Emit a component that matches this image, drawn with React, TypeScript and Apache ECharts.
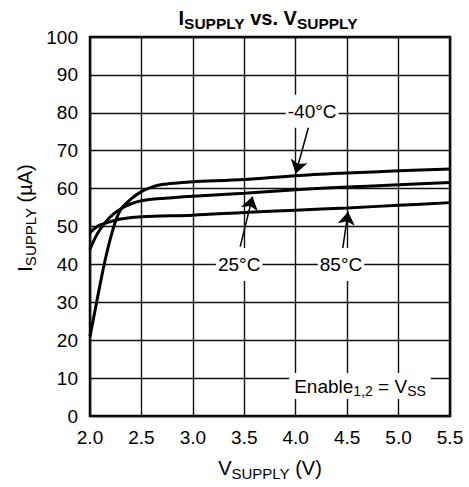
import React, { useEffect, useRef } from "react";
import * as echarts from "echarts";

const xMin = 2.0;
const xMax = 5.5;
const xStep = 0.5;
const yMin = 0;
const yMax = 100;
const yStep = 10;

// -40°C curve
const vM40 = [2.0, 2.05, 2.1, 2.15, 2.2, 2.25, 2.3, 2.4, 2.5, 2.6, 2.7, 2.85, 3.0, 3.5, 4.0, 4.5, 5.0, 5.5];
const iM40 = [21, 28, 35, 41.5, 47, 51.5, 54.5, 57.3, 59.2, 60.4, 61.1, 61.5, 61.8, 62.4, 63.4, 64.1, 64.7, 65.2];
// 25°C curve
const v25 = [2.0, 2.05, 2.1, 2.2, 2.3, 2.4, 2.5, 2.7, 3.0, 3.5, 4.0, 4.5, 5.0, 5.5];
const i25 = [44, 47, 49.3, 52.6, 54.7, 56.0, 56.8, 57.4, 58, 58.8, 59.7, 60.4, 61.0, 61.6];
// 85°C curve
const v85 = [2.0, 2.05, 2.1, 2.2, 2.3, 2.5, 3.0, 3.5, 4.0, 4.5, 5.0, 5.5];
const i85 = [48.4, 49.6, 50.4, 51.3, 52.0, 52.6, 53.0, 53.7, 54.3, 54.9, 55.6, 56.3];

const labelText = ["-40°C", "25°C", "85°C"];
const labelPos = [
  [4.16, 80.4],
  [3.45, 40],
  [4.44, 40],
];
const arrowFrom = [
  [4.13, 76.8],
  [3.46, 44.7],
  [4.45, 43.0],
];
const arrowTo = [
  [4.0, 64.0],
  [3.58, 57.9],
  [4.51, 53.9],
];
const enablePos = [4.625, 7.9];

const FONT = "'Liberation Sans', Arial, Helvetica, sans-serif";

export default function App() {
  const ref = useRef<HTMLDivElement>(null);
  useEffect(() => {
    const chart = echarts.init(ref.current!, null, { renderer: "svg" });
    const lineSeries = (name: string, xs: number[], ys: number[], extra: any = {}) => ({
      type: "line",
      name,
      data: xs.map((x, i) => [x, ys[i]]),
      showSymbol: false,
      symbol: "none",
      smooth: 0.3,
      lineStyle: { color: "#000", width: 3 },
      z: 3,
      ...extra,
    });
    const subRich = (main: number, sub: number, pad: number, bold = false) => ({
      n: {
        fontSize: main,
        fontFamily: FONT,
        fill: "#000",
        color: "#000",
        fontWeight: bold ? "bold" : "normal",
      },
      s: {
        fontSize: sub,
        fontFamily: FONT,
        fill: "#000",
        color: "#000",
        fontWeight: bold ? "bold" : "normal",
        padding: [pad, 0, 0, 0],
      },
    });
    const baseGraphic: any[] = [
      {
        type: "text",
        x: 268,
        y: 18,
        style: {
          text: "{n|I}{s|SUPPLY}{n| vs. V}{s|SUPPLY}",
          align: "center",
          verticalAlign: "middle",
          rich: subRich(20, 15.5, 10, true),
        },
      },
      {
        type: "text",
        x: 270,
        y: 468,
        style: {
          text: "{n|V}{s|SUPPLY}{n| (V)}",
          align: "center",
          verticalAlign: "middle",
          rich: subRich(20, 15, 11),
        },
      },
      {
        type: "text",
        x: 25,
        y: 218,
        rotation: Math.PI / 2,
        style: {
          text: "{n|I}{s|SUPPLY}{n| (µA)}",
          align: "center",
          verticalAlign: "middle",
          rich: subRich(20, 15, 11),
        },
      },
    ];
    chart.setOption({
      animation: false,
      grid: {
        left: 90,
        right: 19,
        top: 37,
        bottom: 71,
        show: true,
        borderColor: "#000",
        borderWidth: 2.5,
        backgroundColor: "transparent",
      },
      xAxis: {
        type: "value",
        min: xMin,
        max: xMax,
        interval: xStep,
        axisLine: { show: false },
        axisTick: { show: false },
        splitLine: { show: true, lineStyle: { color: "#111", width: 1.4 } },
        axisLabel: {
          formatter: (v: number) => v.toFixed(1),
          fontSize: 19,
          color: "#000",
          fontFamily: FONT,
          margin: 12,
        },
      },
      yAxis: {
        type: "value",
        min: yMin,
        max: yMax,
        interval: yStep,
        axisLine: { show: false },
        axisTick: { show: false },
        splitLine: { show: true, lineStyle: { color: "#111", width: 1.4 } },
        axisLabel: { fontSize: 19, color: "#000", fontFamily: FONT, margin: 12 },
      },
      graphic: baseGraphic,
      series: [
        lineSeries("-40°C", vM40, iM40, {
          markLine: {
            silent: true,
            symbol: ["none", "arrow"],
            symbolSize: 13,
            label: { show: false },
            lineStyle: { color: "#000", width: 1.5, type: "solid" },
            itemStyle: { color: "#000" },
            data: arrowFrom.map((f, i) => [{ coord: f }, { coord: arrowTo[i] }]),
          },
        }),
        lineSeries("25°C", v25, i25),
        lineSeries("85°C", v85, i85),
      ],
    });
    const labelGraphics = labelPos.map((p, i) => {
      const px = chart.convertToPixel({ gridIndex: 0 }, p) as number[];
      return {
        type: "text",
        x: px[0],
        y: px[1],
        z: 100,
        style: {
          text: labelText[i],
          align: "center",
          verticalAlign: "middle",
          fontSize: 19,
          fontFamily: FONT,
          fill: "#000",
          backgroundColor: "#fff",
          padding: [7, 2],
        },
      };
    });
    const ep = chart.convertToPixel({ gridIndex: 0 }, enablePos) as number[];
    chart.setOption({
      graphic: [
        ...baseGraphic,
        ...labelGraphics,
        {
          type: "text",
          x: ep[0],
          y: ep[1],
          z: 100,
          style: {
            text: "{n|Enable}{s|1,2}{n| = V}{s|SS}",
            align: "center",
            verticalAlign: "middle",
            backgroundColor: "#fff",
            padding: [1, 5],
            rich: subRich(19, 14, 10),
          },
        },
      ],
    });
    return () => chart.dispose();
  }, []);
  return (
    <div
      ref={ref}
      style={{ position: "fixed", left: 0, top: 0, width: 469, height: 487, background: "#fff" }}
    />
  );
}
